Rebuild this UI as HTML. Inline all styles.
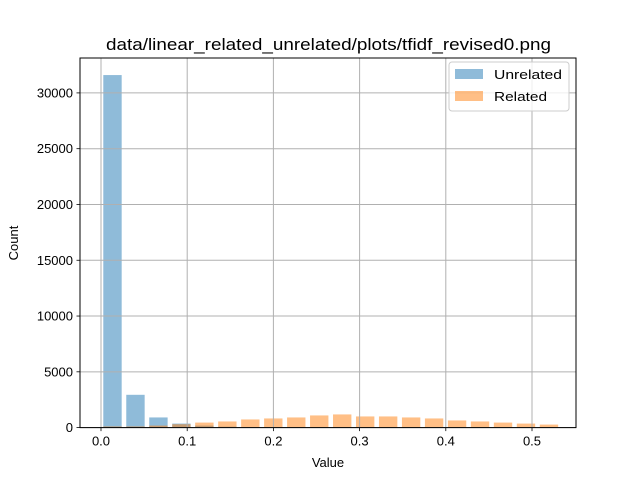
<!DOCTYPE html>
<html><head><meta charset="utf-8"><style>
body{margin:0;background:#fff;font-family:"Liberation Sans","DejaVu Sans",sans-serif;}
svg text{font-family:"Liberation Sans","DejaVu Sans",sans-serif;}
</style></head><body>
<svg id="chart" width="640" height="480" xmlns="http://www.w3.org/2000/svg">
<rect width="640" height="480" fill="#fff"/>
<g id="bars"></g>
<g id="grid"></g>
<rect x="80" y="58" width="496" height="369.6" fill="none" stroke="#000" stroke-width="1"/>
<g id="ticks"></g>
<text x="106" y="50" font-size="16.5" textLength="445" lengthAdjust="spacingAndGlyphs">data/linear_related_unrelated/plots/tfidf_revised0.png</text>
<text x="328" y="467" text-anchor="middle" font-size="13">Value</text>
<text x="18" y="243" text-anchor="middle" font-size="13" transform="rotate(-90 18 243)">Count</text>
<g>
<rect x="449" y="62" width="120" height="49" rx="3" fill="#fff" fill-opacity="0.8" stroke="#ccc"/>
<rect x="455" y="69" width="28" height="10" fill="#1f77b4" fill-opacity="0.5"/>
<text x="494" y="79" font-size="13" textLength="68" lengthAdjust="spacingAndGlyphs">Unrelated</text>
<rect x="455" y="91" width="28" height="10" fill="#ff7f0e" fill-opacity="0.5"/>
<text x="494" y="101" font-size="13" textLength="53" lengthAdjust="spacingAndGlyphs">Related</text>
</g>
</svg>
<script>
const binWidth = 0.02665;
const unrelatedCounts = [31600,2940,910,360,180,80,0,0,0,0,0,0,0,0,0,0,0,0,0,0];
const relatedCounts = [100,100,180,300,450,550,730,820,910,1090,1180,1000,1000,910,820,640,550,450,360,270];
const xTicks = [0.0,0.1,0.2,0.3,0.4,0.5];
const xTickLabels = ["0.0","0.1","0.2","0.3","0.4","0.5"];
const yTicks = [0,5000,10000,15000,20000,25000,30000];
const yTickLabels = ["0","5000","10000","15000","20000","25000","30000"];

const X0=80,X1=576,Y0=427.6,Y1=58;
const xMin=-0.02436,xMax=0.55104;
const yMin=0,yMax=33129;
const sx=v=>X0+(v-xMin)/(xMax-xMin)*(X1-X0);
const sy=v=>Y0-(v-yMin)/(yMax-yMin)*(Y0-Y1);
const NS="http://www.w3.org/2000/svg";
function mk(tag,attrs,parent){const e=document.createElementNS(NS,tag);for(const k in attrs)e.setAttribute(k,attrs[k]);parent.appendChild(e);return e;}
const bars=document.getElementById('bars'),grid=document.getElementById('grid'),ticks=document.getElementById('ticks');
function drawSeries(arr,color,name){
  arr.forEach((c,i)=>{
    if(c<=0)return;
    const l=sx(i*binWidth+0.1*binWidth),r=sx(i*binWidth+0.9*binWidth);
    const r1=mk('rect',{x:l,y:sy(c),width:r-l,height:sy(0)-sy(c),fill:color,'fill-opacity':0.5},bars);
    
    
  });
}
drawSeries(unrelatedCounts,'#1f77b4','unrelated');
drawSeries(relatedCounts,'#ff7f0e','related');
xTicks.forEach((t,i)=>{
  const x=sx(t);
  const g=mk('line',{x1:x,x2:x,y1:Y1,y2:Y0,stroke:'#b0b0b0','stroke-width':1},grid);
  
  
  mk('line',{x1:x,x2:x,y1:Y0,y2:Y0+3.5,stroke:'#000','stroke-width':0.8},ticks);
  const tx=mk('text',{x:x,y:Y0+18,'text-anchor':'middle','font-size':13},ticks);
  tx.textContent=xTickLabels[i];
  
  
});
yTicks.forEach((t,i)=>{
  const y=sy(t);
  const g=mk('line',{x1:X0,x2:X1,y1:y,y2:y,stroke:'#b0b0b0','stroke-width':1},grid);
  
  
  mk('line',{x1:X0-3.5,x2:X0,y1:y,y2:y,stroke:'#000','stroke-width':0.8},ticks);
  const tx=mk('text',{x:X0-7,y:y+4.5,'text-anchor':'end','font-size':13},ticks);
  tx.textContent=yTickLabels[i];
  
  
});
</script>
</body></html>
